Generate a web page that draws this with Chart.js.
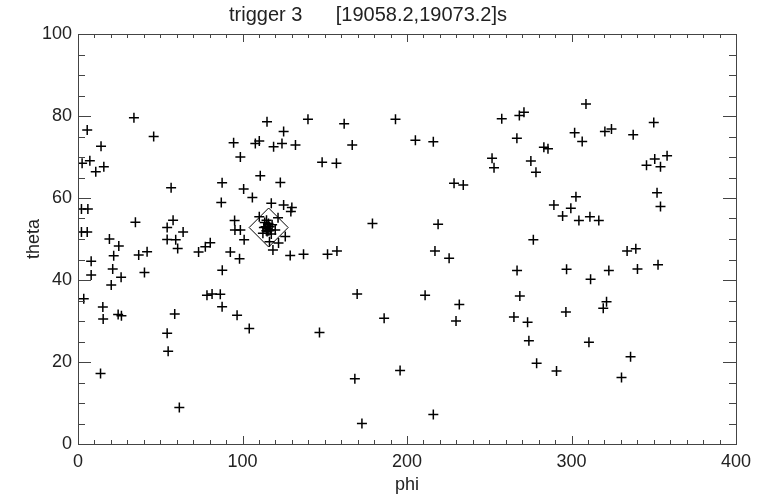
<!DOCTYPE html>
<html>
<head>
<meta charset="utf-8">
<script src="https://cdn.jsdelivr.net/npm/chart.js@4.4.0/dist/chart.umd.min.js"></script>
<style>
  html, body { margin: 0; padding: 0; background: #fff; }
  #wrap { width: 757px; height: 496px; }
</style>
</head>
<body>
<div id="wrap"><canvas id="skyChart" width="757" height="496"></canvas></div>
<script>
// event directions (phi, theta) in the trigger window
const phiValues = [
  34, 5.6, 46, 14, 94.6, 98.7, 2.5, 7.2, 15.7, 10.8,
  56.6, 87.6, 100.7, 87.1, 2.1, 6, 34.9, 57.8, 54.2, 63.9,
  2.1, 5.6, 95.2, 95.4, 98.7, 19.1, 24.8, 54.2, 59.4, 60.6,
  42, 36.9, 21.7, 80.4, 77.4, 73.3, 92.6, 98.2, 8, 21.1,
  8, 26.2, 40.4, 87.7, 20.2, 3.5, 78.4, 81.5, 86.5, 15.1,
  87.6, 15.3, 24.4, 26.4, 58.8, 96.7, 104.1, 54.2, 54.8, 13.7,
  61.6, 114.9, 139.8, 161.8, 193, 125, 107.8, 110.2, 118.9, 124,
  132.2, 166.7, 205.1, 148.4, 157.1, 110.8, 123, 106, 117.5, 125,
  130, 129.4, 110.2, 121.6, 101, 126, 116.4, 121.9, 118.5, 129,
  137.1, 151.7, 157.4, 179, 169.7, 186.1, 146.8, 195.8, 168.3, 172.6,
  308.8, 257.6, 268.3, 271.1, 216, 266.8, 301.9, 306.5, 283.2, 285.7,
  251.7, 252.9, 275.3, 278.4, 228.6, 234.2, 302.7, 289.3, 299.6, 294.6,
  304.5, 218.9, 276.8, 217, 225.6, 266.9, 297, 211, 268.6, 231.8,
  296.6, 265, 229.8, 273.3, 274.1, 310.6, 278.8, 290.9, 216, 350,
  320.3, 324.3, 337.5, 350.6, 358.1, 345.6, 354.1, 352, 354.1, 311.2,
  316.6, 333.8, 339.1, 322.7, 340.1, 352.6, 311.6, 321.3, 319.3, 335.9,
  330.4,
  // dense group at the localisation
  115, 114, 116, 115.5, 114.5, 116.5, 113, 117, 115, 115.8,
  112.4, 119.9, 114.6, 117.5, 113.5, 118
];
const thetaValues = [
  79.6, 76.6, 75, 72.6, 73.5, 70, 68.5, 69.1, 67.6, 66.4,
  62.5, 63.7, 62.2, 58.9, 57.3, 57.3, 54.1, 54.6, 52.8, 51.7,
  51.7, 51.7, 54.5, 52.2, 52.2, 50, 48.3, 49.9, 49.8, 47.7,
  46.9, 46.1, 45.9, 49.1, 48.1, 46.8, 46.8, 45.2, 44.6, 42.7,
  41.2, 40.7, 41.8, 42.4, 38.8, 35.4, 36.3, 36.6, 36.5, 33.4,
  33.5, 30.5, 31.6, 31.3, 31.7, 31.4, 28.2, 27, 22.6, 17.2,
  8.9, 78.6, 79.2, 78.1, 79.2, 76.2, 73.3, 73.9, 72.5, 73.3,
  72.9, 72.9, 74.1, 68.7, 68.5, 65.4, 63.8, 60.1, 58.7, 58.3,
  57.7, 56.7, 55.4, 55.2, 49.8, 50.6, 49.3, 49, 47.3, 46,
  46.3, 46.3, 47.1, 53.8, 36.6, 30.7, 27.2, 17.9, 15.9, 5,
  82.9, 79.3, 80.1, 80.9, 73.7, 74.6, 75.9, 73.8, 72.4, 72,
  69.7, 67.4, 69, 66.3, 63.6, 63.2, 60.3, 58.3, 57.5, 55.6,
  54.5, 53.6, 49.8, 47.1, 45.3, 42.3, 42.6, 36.3, 36.1, 34,
  32.2, 31, 30, 29.7, 25.2, 24.8, 19.7, 17.8, 7.2, 78.4,
  76.2, 76.8, 75.4, 69.5, 70.3, 68, 67.6, 61.3, 57.9, 55.4,
  54.5, 47.1, 47.6, 42.3, 42.7, 43.7, 40.2, 34.7, 33.1, 21.3,
  16.2,
  52.5, 53, 52, 53.5, 52, 53, 52.8, 52.2, 51.8, 53.8,
  51.4, 52.2, 54.6, 51.2, 54, 53.5
];

// localisation box centre
const boxPhi = [115.9];
const boxTheta = [52.8];

const titleText = 'trigger 3      [19058.2,19073.2]s';
const textColor = '#222';
const fontFamily = '"Liberation Sans", Arial, sans-serif';

const eventPoints = phiValues.map((p, i) => ({ x: p, y: thetaValues[i] }));
const boxPoints = boxPhi.map((p, i) => ({ x: p, y: boxTheta[i] }));

// box around the plot with inward major/minor ticks on all four sides, plus the title
const framePlugin = {
  id: 'idlFrame',
  afterDatasetsDraw(chart) {
    const { ctx, chartArea: a, scales: { x, y } } = chart;
    ctx.save();
    ctx.strokeStyle = '#444';
    ctx.lineWidth = 1;
    ctx.strokeRect(Math.round(a.left) + 0.5, Math.round(a.top) + 0.5,
      Math.round(a.right - a.left), Math.round(a.bottom - a.top));
    ctx.beginPath();
    for (let v = x.min; v <= x.max; v += 10) {
      const px = Math.round(x.getPixelForValue(v)) + 0.5;
      const len = v % 100 === 0 ? 8 : 4;
      ctx.moveTo(px, a.bottom); ctx.lineTo(px, a.bottom - len);
      ctx.moveTo(px, a.top); ctx.lineTo(px, a.top + len);
    }
    for (let v = y.min; v <= y.max; v += 5) {
      const py = Math.round(y.getPixelForValue(v)) + 0.5;
      const len = v % 20 === 0 ? 13 : 7;
      ctx.moveTo(a.left, py); ctx.lineTo(a.left + len, py);
      ctx.moveTo(a.right, py); ctx.lineTo(a.right - len, py);
    }
    ctx.stroke();

    ctx.fillStyle = textColor;
    ctx.font = '20px ' + fontFamily;
    ctx.textAlign = 'center';
    ctx.textBaseline = 'middle';
    ctx.fillText(titleText, 368, 15);
    ctx.restore();
  }
};

new Chart(document.getElementById('skyChart'), {
  type: 'scatter',
  data: {
    datasets: [
      {
        data: eventPoints,
        pointStyle: 'cross',
        pointRadius: 5,
        borderColor: '#000',
        borderWidth: 1.5
      },
      {
        data: boxPoints,
        pointStyle: 'rectRot',
        pointRadius: 19.5,
        borderColor: '#000',
        backgroundColor: 'rgba(0,0,0,0)',
        borderWidth: 1
      }
    ]
  },
  options: {
    responsive: false,
    animation: false,
    devicePixelRatio: 1,
    layout: { padding: { left: 0, top: 34, right: 21, bottom: 0 } },
    plugins: {
      legend: { display: false },
      tooltip: { enabled: false }
    },
    scales: {
      x: {
        type: 'linear',
        min: 0,
        max: 400,
        grid: { display: false },
        border: { display: false },
        ticks: {
          stepSize: 100,
          padding: -1,
          color: textColor,
          font: { family: fontFamily, size: 18 }
        },
        title: {
          display: true,
          text: 'phi',
          color: textColor,
          padding: { top: 0, bottom: 0 },
          font: { family: fontFamily, size: 18 }
        },
        afterFit(scale) { scale.height = 52; }
      },
      y: {
        type: 'linear',
        min: 0,
        max: 100,
        grid: { display: false },
        border: { display: false },
        ticks: {
          stepSize: 20,
          padding: -2,
          color: textColor,
          font: { family: fontFamily, size: 18 }
        },
        title: {
          display: true,
          text: 'theta',
          color: textColor,
          padding: { top: 23, bottom: 0 },
          font: { family: fontFamily, size: 18 }
        },
        afterFit(scale) { scale.width = 78; }
      }
    }
  },
  plugins: [framePlugin]
});
</script>
</body>
</html>
